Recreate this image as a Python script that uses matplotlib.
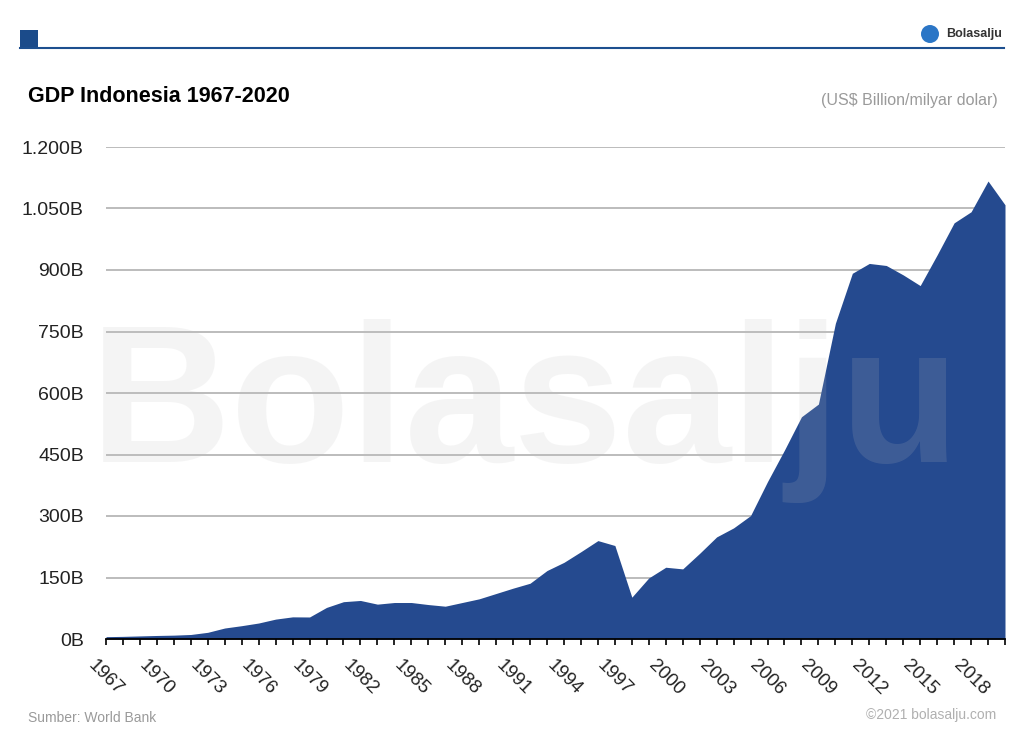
import matplotlib
matplotlib.use("Agg")
import matplotlib.pyplot as plt
from matplotlib.patches import Rectangle, Ellipse
from matplotlib.lines import Line2D
import numpy as np

plt.rcParams['font.family'] = ['Liberation Sans', 'DejaVu Sans']

# PDB Indonesia (miliar US$)
tahun = list(range(1967, 2021))
gdp = [5.7, 6.4, 7.5, 8.6, 9.4, 11.0, 16.3, 26.8, 32.5, 39.0,
       48.5, 54.0, 53.7, 77.0, 91.0, 94.0, 85.0, 89.0, 89.0, 84.0,
       80.0, 89.0, 98.0, 111.0, 124.0, 136.0, 167.0, 187.0, 213.0, 240.0,
       228.0, 102.0, 149.0, 175.0, 171.0, 209.0, 249.0, 271.0, 301.0, 384.0,
       461.0, 542.0, 573.0, 770.0, 892.0, 916.0, 911.0, 888.0, 862.0, 937.0,
       1015.0, 1042.0, 1117.0, 1059.0]
yticks = [0, 150, 300, 450, 600, 750, 900, 1050, 1200]
ylabels = ["0B", "150B", "300B", "450B", "600B", "750B", "900B", "1.050B", "1.200B"]
xlabel_tahun = list(range(1967, 2020, 3))

W, H = 1024, 744
fig = plt.figure(figsize=(W / 100, H / 100), dpi=100)

def fx(px):
    return px / W

def fy(py):
    return 1 - py / H

ax = fig.add_axes([fx(106), fy(639), fx(1005) - fx(106), fy(147) - fy(639)])

ax.fill_between(tahun, gdp, 0, color="#254a8f", lw=0)
ax.set_xlim(1967, 2020)
ax.set_ylim(0, 1200)
ax.set_axisbelow(True)

ax.set_yticks(yticks)
ax.set_yticklabels(ylabels, fontsize=14, color="#222222")
ax.yaxis.grid(True, color="#bcbcbc", lw=1.4)
ax.tick_params(axis="y", length=0, pad=16)

ax.set_xticks(tahun, minor=True)
ax.set_xticks(xlabel_tahun)
ax.set_xticklabels([str(t) for t in xlabel_tahun], rotation=-45, ha="center",
                   va="top", fontsize=13.5, color="#222222")
ax.tick_params(axis="x", which="both", length=4, width=1.2, color="black", pad=9)

for s in ["top", "right", "left"]:
    ax.spines[s].set_visible(False)
ax.spines["bottom"].set_color("black")
ax.spines["bottom"].set_linewidth(1.3)

# header
fig.add_artist(Rectangle((fx(20), fy(49)), fx(18), 19 / H, transform=fig.transFigure,
                         color="#1b4b8a", lw=0))
fig.add_artist(Line2D([fx(20), fx(1004)], [fy(48), fy(48)], transform=fig.transFigure,
                      color="#1d4f8f", lw=1.5))
fig.add_artist(Ellipse((fx(930), fy(34)), 18 / W, 18 / H, transform=fig.transFigure,
                       color="#2b76c6", lw=0))
fig.text(fx(946), fy(34), "Bolasalju", fontsize=9, fontweight="bold",
         color="#333333", ha="left", va="center")

# judul
fig.text(fx(28), fy(96), "GDP Indonesia 1967-2020", fontsize=15.5, fontweight="bold",
         color="black", ha="left", va="center")
fig.text(fx(998), fy(101), "(US$ Billion/milyar dolar)", fontsize=11.5,
         color="#9a9a9a", ha="right", va="center")

# footer
fig.text(fx(28), fy(718), "Sumber: World Bank", fontsize=10, color="#9a9a9a",
         ha="left", va="center")
fig.text(fx(996), fy(715), "©2021 bolasalju.com", fontsize=10, color="#b0b0b0",
         ha="right", va="center")

# watermark
fig.text(fx(90), fy(462), "Bolasalju", fontsize=141, fontweight="bold",
         color="#c0c0c0", alpha=0.16, ha="left", va="baseline", zorder=10)

fig.savefig("out.png", dpi=100)
